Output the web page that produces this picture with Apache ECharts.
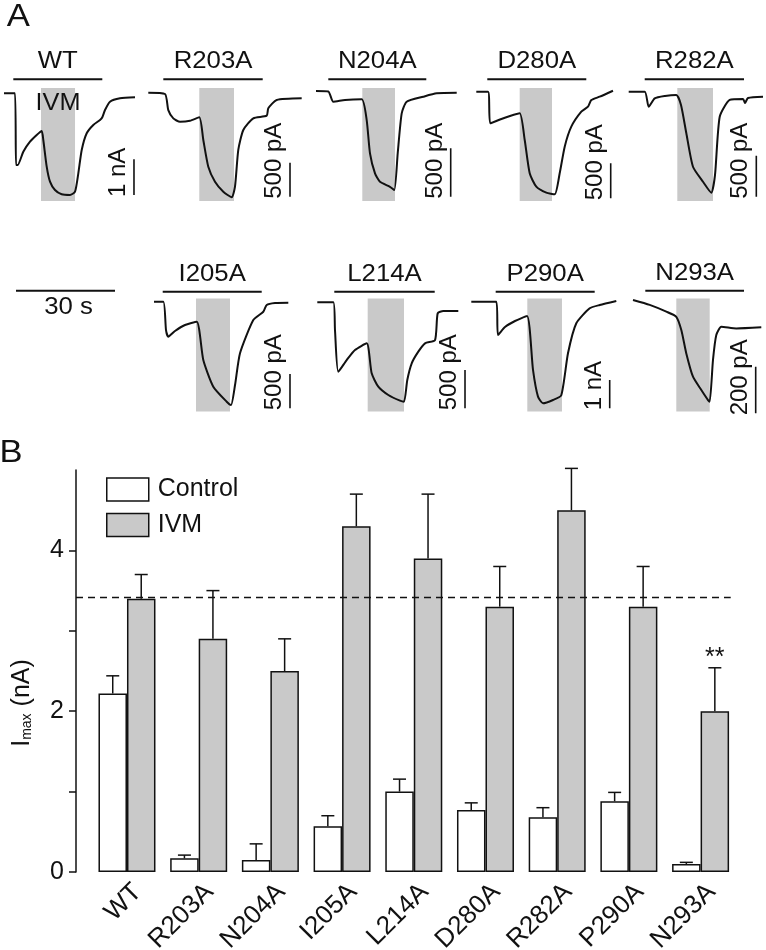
<!DOCTYPE html>
<html>
<head>
<meta charset="utf-8">
<script src="https://cdn.jsdelivr.net/npm/echarts@6/dist/echarts.min.js"></script>
<style>html,body{margin:0;padding:0;background:#fff}#c{width:766px;height:950px}</style>
</head>
<body>
<div id="c"></div>
<script>
// ================= Panel B data =================
const mutants = ['WT','R203A','N204A','I205A','L214A','D280A','R282A','P290A','N293A'];
const controlMean = [2.22, 0.17, 0.15, 0.57, 1.00, 0.77, 0.68, 0.88, 0.10];
const controlErr  = [0.22, 0.04, 0.20, 0.13, 0.155, 0.09, 0.12, 0.11, 0.02];
const ivmMean     = [3.40, 2.90, 2.50, 4.30, 3.90, 3.30, 4.50, 3.30, 2.00];
const ivmErr      = [0.30, 0.60, 0.40, 0.40, 0.80, 0.50, 0.52, 0.50, 0.54];
const significance = ['', '', '', '', '', '', '', '', '**'];
const wtIvmLevel = 3.42;
const yTickValues = [0, 1, 2, 3, 4];
const yLabelValues = [0, 2, 4];

// ================= Panel A data: traces [time (s), current (pA)] =================
const traceWT = [[0,0],[3.33,0],[3.64,-2008],[4.15,-2008],[5.85,-1635],[7.88,-1355],[9.91,-1168],[11.42,-1056],[11.91,-1308],[12.94,-2055],[13.94,-2475],[15.45,-2708],[17.48,-2828],[20.0,-2848],[21.52,-2755],[22.52,-2240],[23.55,-1588],[25.06,-1120],[27.06,-888],[29.09,-748],[29.79,-672],[30.61,-468],[32.12,-235],[35.15,-140],[39.7,-112]];
const traceR203A = [[0,0],[5.06,-19],[6.06,-256],[7.58,-378],[9.61,-428],[12.64,-413],[15.45,-362],[16.67,-695],[18.18,-1088],[20.21,-1308],[22.73,-1455],[25.27,-1537],[26.27,-1381],[27.27,-842],[28.79,-548],[31.82,-376],[35.88,-338],[36.36,-229],[38.91,-107],[46.48,-82]];
const traceN204A = [[0,0],[3.73,-5],[5.24,-111],[8.79,-93],[13.85,-86],[15.36,-300],[16.36,-644],[17.88,-851],[19.39,-937],[22.42,-989],[23.73,-1023],[24.76,-644],[25.97,-231],[27.48,-111],[32.52,-59],[36.58,-24],[42.64,-18]];
const traceD280A = [[0,0],[3.55,0],[4.24,-452],[7.18,-397],[10.21,-347],[13.15,-309],[14.67,-690],[16.18,-1166],[18.18,-1357],[21.21,-1443],[23.76,-1466],[25.27,-1166],[26.79,-785],[28.79,-500],[31.82,-286],[33.85,-214],[34.85,-119],[37.39,-71],[41.42,14]];
const traceR282A = [[0,0],[4.85,0],[6.06,-183],[7.88,-81],[11.0,-52],[14.42,-40],[15.85,-162],[17.45,-504],[19.48,-915],[22.52,-1098],[25.03,-1232],[26.15,-1018],[27.58,-306],[30.61,-101],[34.64,-89],[35.24,-138],[36.15,-77],[40.7,-61]];
const traceI205A = [[0,0],[2.82,0],[3.64,-413],[4.33,-510],[6.36,-427],[9.39,-340],[12.94,-292],[14.94,-850],[17.97,-1239],[22.03,-1458],[23.33,-1506],[24.55,-1215],[26.06,-752],[30.09,-267],[33.12,-146],[34.15,-48],[36.67,-19],[40.7,-15]];
const traceL214A = [[0,0],[4.85,0],[5.36,-361],[6.36,-906],[8.91,-753],[11.42,-622],[14.97,-535],[16.48,-927],[18.48,-1101],[21.52,-1210],[25.06,-1284],[26.27,-1297],[27.27,-1014],[28.61,-796],[30.61,-644],[32.64,-535],[35.67,-492],[36.48,-144],[38.18,-114],[42.73,-114]];
const traceP290A = [[0,0],[7.58,0],[8.09,-1175],[10.21,-893],[13.24,-681],[16.88,-505],[18.7,-2407],[20.21,-3350],[21.73,-3587],[24.76,-3470],[27.27,-3300],[29.3,-1822],[31.82,-762],[35.88,-233],[38.91,-117],[43.94,25]];
const traceN293A = [[0,0],[5.06,-21],[10.1,-50],[13.12,-72],[14.64,-129],[16.15,-229],[18.18,-329],[20.7,-386],[22.73,-429],[23.24,-436],[24.24,-257],[25.24,-150],[26.76,-115],[31.3,-122],[38.88,-117]];

const traceNames = ['WT','R203A','N204A','D280A','R282A','I205A','L214A','P290A','N293A'];
const traceData  = [traceWT, traceR203A, traceN204A, traceD280A, traceR282A, traceI205A, traceL214A, traceP290A, traceN293A];
// IVM application windows [start s, end s]
const ivmWindows = [[11.21,21.52],[15.45,25.97],[14.03,23.94],[13.15,22.94],[14.73,25.55],[12.73,23.03],[15.27,26.27],[16.97,27.48],[13.12,23.24]];
// agonist application bars [start s, end s, level pA]
const agonistBars = [[2.82,29.79,392],[4.55,34.67,197],[3.73,33.42,121],[3.33,33.33,177],[4.85,34.94,151],[2.64,32.64,146],[5.15,35.58,138],[7.39,37.39,353],[3.73,33.64,40]];
// vertical scale bars [time s, from pA, to pA]
const scaleBars = [[39.39,-1850,-2850],[42.94,-1030,-1530],[40.82,-592,-1092],[40.73,-1023,-1523],[38.67,-781,-1281],[41.21,-1054,-1554],[44.76,-883,-1383],[41.94,-2764,-3764],[37.18,-286,-486]];
const scaleLabels = ['1 nA','500 pA','500 pA','500 pA','500 pA','500 pA','500 pA','1 nA','200 pA'];
const timeScaleBar = [0, 30];
const timeScaleLabel = '30 s';

// ================= Layout =================
const FONT = '"Liberation Sans", Arial, Helvetica, sans-serif';
const INK = '#111';
const GREY = '#c9c9c9';
const panelLeft = [4, 148.3, 316, 476.3, 628.7, 154, 317.3, 471.3, 633];
const panelRow  = [0, 0, 0, 0, 0, 1, 1, 1, 1];
const rowTop = [88, 298.5];
const rowHeight = 113;
const panelYRange = [[-3016,148],[-1592,69],[-1136,31],[-1562,53],[-1333,45],[-1601,47],[-1425,50],[-3876,113],[-478,6.4]];
const T_MAX = 50, PANEL_W = 165;
const BAR_W = 28.5, CAP = 6.5;

const chart = echarts.init(document.getElementById('c'), null, {renderer: 'canvas'});

const grids = [{left: 76, right: 35.3, top: 470, bottom: 78, outerBoundsMode: 'none', containLabel: false}];
const xAxes = [{
  type: 'value', gridIndex: 0, min: -0.711, max: 8.42,
  axisLine: {show: false, onZero: false}, axisTick: {show: false}, splitLine: {show: false},
  axisLabel: {
    customValues: mutants.map((m, i) => i + 0.15),
    formatter: v => mutants[Math.round(v)] || '',
    rotate: 45, fontSize: 26, fontFamily: FONT, color: INK, margin: 16
  }
}];
const yAxes = [{
  type: 'value', gridIndex: 0, min: 0, max: 5,
  axisLine: {show: true, onZero: false, lineStyle: {color: INK, width: 1.5}},
  axisTick: {show: true, length: 7, customValues: yTickValues, lineStyle: {color: INK, width: 1.5}},
  axisLabel: {customValues: yLabelValues, fontSize: 25, fontFamily: FONT, color: INK, margin: 12},
  splitLine: {show: false}
}];

const series = [
  {
    type: 'line', xAxisIndex: 0, yAxisIndex: 0, data: [], z: 1, silent: true,
    markLine: {symbol: 'none', silent: true, label: {show: false},
      lineStyle: {type: [7, 5], color: INK, width: 1.3}, data: [{yAxis: wtIvmLevel}]}
  },
  {
    name: 'Control', type: 'bar', xAxisIndex: 0, yAxisIndex: 0, z: 2,
    data: controlMean.map((v, i) => [i, v]), barWidth: BAR_W, barGap: '0%',
    itemStyle: {color: '#ffffff', borderColor: INK, borderWidth: 1.5}
  },
  {
    name: 'IVM', type: 'bar', xAxisIndex: 0, yAxisIndex: 0, z: 2,
    data: ivmMean.map((v, i) => [i, v]), barWidth: BAR_W, barGap: '0%',
    itemStyle: {color: GREY, borderColor: INK, borderWidth: 1.5}
  },
  {
    type: 'custom', xAxisIndex: 0, yAxisIndex: 0, z: 4, clip: false, silent: true,
    data: controlMean.map((v, i) => [i, v, controlErr[i], -1]).concat(ivmMean.map((v, i) => [i, v, ivmErr[i], 1])),
    renderItem: function (params, api) {
      const i = api.value(0), m = api.value(1), e = api.value(2), side = api.value(3);
      const base = api.coord([i, m]);
      const top = api.coord([i, m + e]);
      const x = base[0] + side * BAR_W / 2;
      const st = {stroke: INK, lineWidth: 1.5};
      const children = [
        {type: 'line', shape: {x1: x, y1: base[1], x2: x, y2: top[1]}, style: st},
        {type: 'line', shape: {x1: x - CAP, y1: top[1], x2: x + CAP, y2: top[1]}, style: st}
      ];
      const sig = side > 0 ? significance[i] : '';
      if (sig) {
        children.push({type: 'text', x: x, y: top[1] - 10,
          style: {text: sig, fontSize: 25, fontFamily: FONT, fill: INK, align: 'center', verticalAlign: 'middle'}});
      }
      return {type: 'group', children: children};
    }
  }
];

traceNames.forEach((name, p) => {
  const g = p + 1;
  grids.push({left: panelLeft[p], top: rowTop[panelRow[p]], width: PANEL_W, height: rowHeight, outerBoundsMode: 'none', containLabel: false});
  xAxes.push({type: 'value', gridIndex: g, min: 0, max: T_MAX, show: false});
  yAxes.push({type: 'value', gridIndex: g, min: panelYRange[p][0], max: panelYRange[p][1], show: false});
  // agonist bar with IVM grey window
  series.push({
    type: 'line', xAxisIndex: g, yAxisIndex: g, clip: false, silent: true, z: 1,
    symbol: 'none', showSymbol: false,
    data: [[agonistBars[p][0], agonistBars[p][2]], [agonistBars[p][1], agonistBars[p][2]]],
    lineStyle: {color: INK, width: 2},
    markArea: {silent: true, itemStyle: {color: GREY},
      data: [[{xAxis: ivmWindows[p][0]}, {xAxis: ivmWindows[p][1]}]]}
  });
  // current trace
  series.push({
    type: 'line', xAxisIndex: g, yAxisIndex: g, clip: false, silent: true, z: 3,
    symbol: 'none', showSymbol: false, smooth: 0.2,
    data: traceData[p], lineStyle: {color: INK, width: 2}
  });
  // scale bar
  series.push({
    type: 'line', xAxisIndex: g, yAxisIndex: g, clip: false, silent: true, z: 3,
    symbol: 'none', showSymbol: false,
    data: [[scaleBars[p][0], scaleBars[p][1]], [scaleBars[p][0], scaleBars[p][2]]],
    lineStyle: {color: INK, width: 1.6}
  });
});

// 30 s time scale
const tg = traceNames.length + 1;
grids.push({left: 16, top: 280.7, width: PANEL_W, height: 20, outerBoundsMode: 'none', containLabel: false});
xAxes.push({type: 'value', gridIndex: tg, min: 0, max: T_MAX, show: false});
yAxes.push({type: 'value', gridIndex: tg, min: -1, max: 1, show: false});
series.push({type: 'line', xAxisIndex: tg, yAxisIndex: tg, clip: false, silent: true, symbol: 'none', showSymbol: false,
  data: [[timeScaleBar[0], 0], [timeScaleBar[1], 0]], lineStyle: {color: INK, width: 2}});

chart.setOption({
  animation: false,
  backgroundColor: '#ffffff',
  grid: grids, xAxis: xAxes, yAxis: yAxes, series: series,
  legend: {
    data: ['Control', 'IVM'], orient: 'vertical', left: 101, top: 472, padding: 5,
    itemWidth: 42, itemHeight: 23, itemGap: 10.6, icon: 'rect', selectedMode: false,
    itemStyle: {borderColor: INK, borderWidth: 1.5},
    textStyle: {fontSize: 25, fontFamily: FONT, color: INK, padding: [0, 0, 0, 4]}
  }
});

// ---- text placed with the library's own coordinate conversion ----
function txt(x, y, text, size, extra, styleExtra) {
  return Object.assign({type: 'text', x: x, y: y, silent: true, z: 100,
    style: Object.assign({text: text, fontSize: size, fontFamily: FONT, fill: INK,
      align: 'center', verticalAlign: 'middle', textAlign: 'center', textVerticalAlign: 'middle'}, styleExtra || {})}, extra || {});
}
const graphics = [];
graphics.push(txt(18.3, 17.5, 'A', 31, {scaleX: 1.12}));
graphics.push(txt(11, 453, 'B', 32, {scaleX: 1.08}));
traceNames.forEach((name, p) => {
  const g = p + 1;
  const finder = {xAxisIndex: g, yAxisIndex: g};
  const bar = agonistBars[p];
  const mid = chart.convertToPixel(finder, [(bar[0] + bar[1]) / 2, bar[2]]);
  graphics.push(txt(mid[0], mid[1] - 17.5, name, 23, {scaleX: 1.12}));
  const sb = chart.convertToPixel(finder, [scaleBars[p][0], scaleBars[p][2]]);
  graphics.push(txt(sb[0] - 15.5, sb[1] + 2, scaleLabels[p], 24, {rotation: Math.PI / 2},
    {align: 'left', textAlign: 'left'}));
  if (p === 0) {
    const iv = chart.convertToPixel(finder, [(ivmWindows[p][0] + ivmWindows[p][1]) / 2, 0]);
    graphics.push(txt(iv[0], iv[1] + 10.5, 'IVM', 23, {scaleX: 1.1}));
  }
});
const ts = chart.convertToPixel({xAxisIndex: tg, yAxisIndex: tg}, [(timeScaleBar[0] + timeScaleBar[1]) / 2, 0]);
graphics.push(txt(ts[0] + 3, ts[1] + 17, timeScaleLabel, 23, {scaleX: 1.12}));
// y-axis name of panel B
graphics.push({type: 'text', x: 22, y: 703, rotation: Math.PI / 2, silent: true, z: 100,
  style: {text: '{a|I}{b|max}{a| (nA)}', fontFamily: FONT, fill: INK, align: 'center', verticalAlign: 'middle',
    textAlign: 'center', textVerticalAlign: 'middle',
    rich: {a: {fontSize: 25, fontFamily: FONT, fill: INK, color: INK},
           b: {fontSize: 14, fontFamily: FONT, fill: INK, color: INK, verticalAlign: 'bottom'}}}});
chart.setOption({graphic: graphics});
</script>
</body>
</html>
